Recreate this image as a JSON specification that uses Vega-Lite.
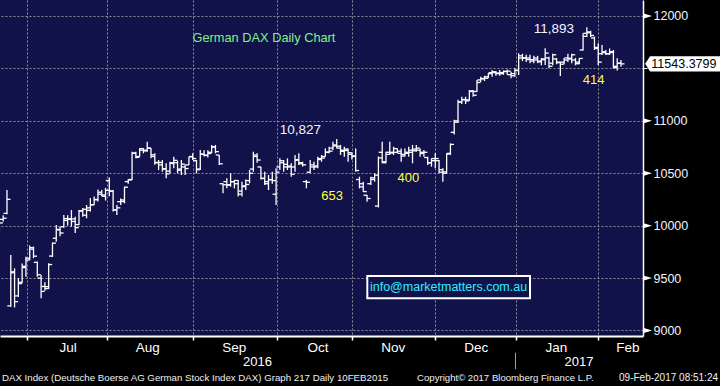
{
  "$schema": "https://vega.github.io/schema/vega-lite/v6.json",
  "width": 643,
  "height": 336,
  "autosize": {"type": "none"},
  "padding": {"left": 0, "top": 0, "right": 77, "bottom": 50},
  "background": "#000000",
  "config": {
    "view": {"fill": "#12124a", "stroke": null},
    "font": "Liberation Sans"
  },
  "datasets": {
    "ohlc": [
      {"i":-1,"o":9990,"h":10054,"l":9945,"c":10026},
      {"i":0,"o":10060,"h":10100,"l":10040,"c":10071},
      {"i":1,"o":10118,"h":10340,"l":10110,"c":10251},
      {"i":2,"o":9234,"h":9720,"l":9225,"c":9551},
      {"i":3,"o":9560,"h":9593,"l":9220,"c":9275},
      {"i":4,"o":9330,"h":9500,"l":9320,"c":9447},
      {"i":5,"o":9460,"h":9640,"l":9450,"c":9612},
      {"i":6,"o":9600,"h":9704,"l":9513,"c":9672},
      {"i":7,"o":9690,"h":9810,"l":9670,"c":9776},
      {"i":8,"o":9790,"h":9800,"l":9690,"c":9709},
      {"i":9,"o":9650,"h":9657,"l":9513,"c":9532},
      {"i":10,"o":9500,"h":9529,"l":9307,"c":9373},
      {"i":11,"o":9420,"h":9460,"l":9380,"c":9418},
      {"i":12,"o":9400,"h":9642,"l":9396,"c":9629},
      {"i":13,"o":9710,"h":9840,"l":9701,"c":9833},
      {"i":14,"o":9880,"h":10006,"l":9847,"c":9964},
      {"i":15,"o":9960,"h":9990,"l":9900,"c":9930},
      {"i":16,"o":9990,"h":10101,"l":9980,"c":10068},
      {"i":17,"o":10050,"h":10100,"l":10000,"c":10066},
      {"i":18,"o":10060,"h":10149,"l":9990,"c":10064},
      {"i":19,"o":10040,"h":10085,"l":9930,"c":9981},
      {"i":20,"o":10010,"h":10149,"l":10006,"c":10142},
      {"i":21,"o":10140,"h":10168,"l":10085,"c":10156},
      {"i":22,"o":10100,"h":10197,"l":10070,"c":10147},
      {"i":23,"o":10170,"h":10264,"l":10134,"c":10198},
      {"i":24,"o":10200,"h":10277,"l":10197,"c":10247},
      {"i":25,"o":10250,"h":10345,"l":10230,"c":10319},
      {"i":26,"o":10300,"h":10340,"l":10280,"c":10292},
      {"i":27,"o":10280,"h":10360,"l":10240,"c":10337},
      {"i":28,"o":10430,"h":10460,"l":10280,"c":10330},
      {"i":29,"o":10330,"h":10340,"l":10134,"c":10150},
      {"i":30,"o":10150,"h":10197,"l":10101,"c":10170},
      {"i":31,"o":10229,"h":10260,"l":10197,"c":10245},
      {"i":32,"o":10230,"h":10372,"l":10213,"c":10367},
      {"i":33,"o":10420,"h":10445,"l":10400,"c":10436},
      {"i":34,"o":10440,"h":10706,"l":10436,"c":10693},
      {"i":35,"o":10690,"h":10706,"l":10642,"c":10651},
      {"i":36,"o":10660,"h":10740,"l":10658,"c":10735},
      {"i":37,"o":10720,"h":10740,"l":10690,"c":10713},
      {"i":38,"o":10720,"h":10801,"l":10706,"c":10739},
      {"i":39,"o":10740,"h":10740,"l":10642,"c":10676},
      {"i":40,"o":10660,"h":10690,"l":10580,"c":10603},
      {"i":41,"o":10600,"h":10626,"l":10531,"c":10603},
      {"i":42,"o":10580,"h":10626,"l":10515,"c":10544},
      {"i":43,"o":10540,"h":10595,"l":10452,"c":10494},
      {"i":44,"o":10520,"h":10610,"l":10500,"c":10593},
      {"i":45,"o":10600,"h":10658,"l":10547,"c":10623},
      {"i":46,"o":10600,"h":10620,"l":10500,"c":10529},
      {"i":47,"o":10540,"h":10626,"l":10483,"c":10587},
      {"i":48,"o":10560,"h":10580,"l":10483,"c":10545},
      {"i":49,"o":10580,"h":10658,"l":10579,"c":10657},
      {"i":50,"o":10660,"h":10690,"l":10626,"c":10640},
      {"i":51,"o":10620,"h":10626,"l":10499,"c":10534},
      {"i":52,"o":10540,"h":10722,"l":10531,"c":10683},
      {"i":53,"o":10680,"h":10720,"l":10660,"c":10672},
      {"i":54,"o":10670,"h":10720,"l":10650,"c":10688},
      {"i":55,"o":10700,"h":10770,"l":10690,"c":10752},
      {"i":56,"o":10750,"h":10770,"l":10690,"c":10706},
      {"i":57,"o":10674,"h":10674,"l":10579,"c":10590},
      {"i":58,"o":10400,"h":10404,"l":10308,"c":10390},
      {"i":59,"o":10420,"h":10452,"l":10356,"c":10386},
      {"i":60,"o":10390,"h":10500,"l":10372,"c":10420},
      {"i":61,"o":10420,"h":10436,"l":10356,"c":10431},
      {"i":62,"o":10400,"h":10436,"l":10277,"c":10300},
      {"i":63,"o":10330,"h":10420,"l":10277,"c":10373},
      {"i":64,"o":10380,"h":10440,"l":10340,"c":10393},
      {"i":65,"o":10430,"h":10531,"l":10404,"c":10500},
      {"i":66,"o":10540,"h":10706,"l":10515,"c":10674},
      {"i":67,"o":10660,"h":10690,"l":10600,"c":10626},
      {"i":68,"o":10560,"h":10563,"l":10440,"c":10452},
      {"i":69,"o":10450,"h":10515,"l":10388,"c":10420},
      {"i":70,"o":10400,"h":10483,"l":10340,"c":10438},
      {"i":71,"o":10440,"h":10515,"l":10400,"c":10430},
      {"i":72,"o":10300,"h":10547,"l":10197,"c":10511},
      {"i":73,"o":10560,"h":10642,"l":10531,"c":10619},
      {"i":74,"o":10600,"h":10626,"l":10515,"c":10585},
      {"i":75,"o":10560,"h":10642,"l":10531,"c":10568},
      {"i":76,"o":10560,"h":10595,"l":10467,"c":10490},
      {"i":77,"o":10560,"h":10674,"l":10515,"c":10624},
      {"i":78,"o":10630,"h":10690,"l":10579,"c":10600},
      {"i":79,"o":10590,"h":10610,"l":10563,"c":10580},
      {"i":80,"o":10420,"h":10436,"l":10356,"c":10414},
      {"i":81,"o":10510,"h":10626,"l":10499,"c":10580},
      {"i":82,"o":10560,"h":10610,"l":10531,"c":10560},
      {"i":83,"o":10570,"h":10658,"l":10547,"c":10631},
      {"i":84,"o":10640,"h":10674,"l":10610,"c":10645},
      {"i":85,"o":10660,"h":10737,"l":10658,"c":10701},
      {"i":86,"o":10700,"h":10753,"l":10690,"c":10711},
      {"i":87,"o":10740,"h":10801,"l":10722,"c":10761},
      {"i":88,"o":10770,"h":10827,"l":10737,"c":10758},
      {"i":89,"o":10740,"h":10770,"l":10674,"c":10709},
      {"i":90,"o":10720,"h":10753,"l":10658,"c":10717},
      {"i":91,"o":10730,"h":10737,"l":10610,"c":10696},
      {"i":92,"o":10680,"h":10700,"l":10630,"c":10665},
      {"i":93,"o":10660,"h":10737,"l":10515,"c":10526},
      {"i":94,"o":10440,"h":10467,"l":10356,"c":10370},
      {"i":95,"o":10400,"h":10420,"l":10324,"c":10325},
      {"i":96,"o":10290,"h":10292,"l":10229,"c":10259},
      {"i":97,"o":10400,"h":10467,"l":10388,"c":10456},
      {"i":98,"o":10440,"h":10500,"l":10420,"c":10482},
      {"i":99,"o":10187,"h":10660,"l":10174,"c":10646},
      {"i":100,"o":10700,"h":10801,"l":10595,"c":10610},
      {"i":101,"o":10600,"h":10706,"l":10595,"c":10680},
      {"i":102,"o":10700,"h":10801,"l":10674,"c":10693},
      {"i":103,"o":10700,"h":10753,"l":10674,"c":10735},
      {"i":104,"o":10700,"h":10737,"l":10690,"c":10710},
      {"i":105,"o":10690,"h":10737,"l":10610,"c":10664},
      {"i":106,"o":10680,"h":10737,"l":10660,"c":10700},
      {"i":107,"o":10690,"h":10753,"l":10658,"c":10700},
      {"i":108,"o":10720,"h":10770,"l":10595,"c":10714},
      {"i":109,"o":10730,"h":10770,"l":10706,"c":10740},
      {"i":110,"o":10720,"h":10737,"l":10658,"c":10689},
      {"i":111,"o":10700,"h":10722,"l":10658,"c":10700},
      {"i":112,"o":10650,"h":10658,"l":10579,"c":10600},
      {"i":113,"o":10600,"h":10642,"l":10563,"c":10620},
      {"i":114,"o":10640,"h":10690,"l":10547,"c":10640},
      {"i":115,"o":10620,"h":10626,"l":10499,"c":10534},
      {"i":116,"o":10510,"h":10547,"l":10420,"c":10513},
      {"i":117,"o":10500,"h":10690,"l":10499,"c":10684},
      {"i":118,"o":10690,"h":10785,"l":10674,"c":10775},
      {"i":119,"o":10890,"h":11010,"l":10870,"c":10987},
      {"i":120,"o":11000,"h":11200,"l":10980,"c":11179},
      {"i":121,"o":11180,"h":11230,"l":11160,"c":11203},
      {"i":122,"o":11200,"h":11230,"l":11160,"c":11190},
      {"i":123,"o":11200,"h":11294,"l":11190,"c":11285},
      {"i":124,"o":11280,"h":11294,"l":11230,"c":11244},
      {"i":125,"o":11280,"h":11390,"l":11278,"c":11366},
      {"i":126,"o":11390,"h":11420,"l":11370,"c":11404},
      {"i":127,"o":11400,"h":11430,"l":11380,"c":11406},
      {"i":128,"o":11420,"h":11453,"l":11406,"c":11450},
      {"i":129,"o":11460,"h":11485,"l":11421,"c":11468},
      {"i":130,"o":11460,"h":11475,"l":11430,"c":11456},
      {"i":131,"o":11450,"h":11485,"l":11430,"c":11450},
      {"i":132,"o":11460,"h":11480,"l":11440,"c":11472},
      {"i":133,"o":11470,"h":11490,"l":11440,"c":11474},
      {"i":134,"o":11440,"h":11469,"l":11406,"c":11451},
      {"i":135,"o":11430,"h":11501,"l":11421,"c":11481},
      {"i":136,"o":11480,"h":11644,"l":11437,"c":11599},
      {"i":137,"o":11620,"h":11640,"l":11570,"c":11600},
      {"i":138,"o":11600,"h":11630,"l":11560,"c":11585},
      {"i":139,"o":11600,"h":11630,"l":11550,"c":11584},
      {"i":140,"o":11570,"h":11620,"l":11550,"c":11599},
      {"i":141,"o":11580,"h":11620,"l":11550,"c":11563},
      {"i":142,"o":11570,"h":11600,"l":11530,"c":11583},
      {"i":143,"o":11590,"h":11692,"l":11533,"c":11646},
      {"i":144,"o":11600,"h":11612,"l":11501,"c":11521},
      {"i":145,"o":11550,"h":11640,"l":11530,"c":11630},
      {"i":146,"o":11590,"h":11600,"l":11540,"c":11555},
      {"i":147,"o":11560,"h":11564,"l":11428,"c":11540},
      {"i":148,"o":11560,"h":11600,"l":11540,"c":11580},
      {"i":149,"o":11600,"h":11640,"l":11560,"c":11597},
      {"i":150,"o":11590,"h":11640,"l":11550,"c":11630},
      {"i":151,"o":11580,"h":11600,"l":11530,"c":11545},
      {"i":152,"o":11560,"h":11600,"l":11540,"c":11595},
      {"i":153,"o":11676,"h":11835,"l":11670,"c":11806},
      {"i":154,"o":11835,"h":11893,"l":11800,"c":11848},
      {"i":155,"o":11840,"h":11860,"l":11800,"c":11814},
      {"i":156,"o":11790,"h":11803,"l":11676,"c":11690},
      {"i":157,"o":11700,"h":11739,"l":11533,"c":11560},
      {"i":158,"o":11640,"h":11723,"l":11628,"c":11659},
      {"i":159,"o":11650,"h":11676,"l":11628,"c":11640},
      {"i":160,"o":11640,"h":11690,"l":11628,"c":11651},
      {"i":161,"o":11660,"h":11676,"l":11500,"c":11509},
      {"i":162,"o":11520,"h":11596,"l":11479,"c":11549},
      {"i":163,"o":11550,"h":11580,"l":11516,"c":11543.38}
    ],
    "levels": [
      {"i":170.0,"v":9000},{"i":170.0,"v":9500},{"i":170.0,"v":10000},
      {"i":170.0,"v":10500},{"i":170.0,"v":11000},{"i":170.0,"v":12000}
    ]
  },
  "layer": [
    {
      "data": {"name": "ohlc"},
      "mark": {"type": "rule", "color": "#ffffff", "strokeWidth": 1.3},
      "encoding": {
        "x": {
          "field": "i", "type": "quantitative",
          "scale": {"domain": [-0.844, 168.81], "nice": false, "zero": false},
          "axis": {
            "orient": "bottom",
            "title": null,
            "values": [6.28, 27.31, 50.16, 72.24, 92.11, 114.01, 135.17, 157.02],
            "labelExpr": "datum.value < 10 ? 'Jul' : datum.value < 30 ? 'Aug' : datum.value < 60 ? 'Sep' : datum.value < 80 ? 'Oct' : datum.value < 100 ? 'Nov' : datum.value < 120 ? 'Dec' : datum.value < 140 ? 'Jan' : 'Feb'",
            "labelOffset": {"condition": {"test": "datum.value > 150", "value": 29}, "value": 40.5},
            "labelColor": "#ffffff",
            "labelFont": "Liberation Sans",
            "labelFontSize": 13.5,
            "labelPadding": 0,
            "labelOverlap": false,
            "labelBound": false,
            "labelFlush": false,
            "tickColor": "#ffffff",
            "tickSize": 4,
            "tickWidth": 1.5,
            "domainColor": "#ffffff",
            "domainWidth": 2,
            "grid": true,
            "gridColor": "#8c8c99",
            "gridDash": [2, 2],
            "gridWidth": 1
          }
        },
        "y": {
          "field": "l", "type": "quantitative",
          "scale": {"domain": [8947.5, 12152.6], "nice": false, "zero": false},
          "axis": {
            "orient": "right",
            "title": null,
            "values": [9000, 9250, 9500, 9750, 10000, 10250, 10500, 10750, 11000, 11250, 11500, 11750, 12000],
            "labelExpr": "datum.value % 500 == 0 && datum.value != 11500 ? format(datum.value, 'd') : ''",
            "labelColor": "#f2f5ff",
            "labelFont": "Liberation Sans",
            "labelFontSize": 12.5,
            "labelPadding": 6,
            "labelOverlap": false,
            "labelBound": false,
            "labelFlush": false,
            "tickColor": "#ffffff",
            "tickSize": 4,
            "tickWidth": 1,
            "domainColor": "#ffffff",
            "domainWidth": 1.5,
            "grid": true,
            "gridColor": "#8c8c99",
            "gridDash": [2, 2],
            "gridWidth": 1,
            "gridOpacity": {"condition": {"test": "datum.value % 500 != 0", "value": 0}, "value": 1}
          }
        },
        "y2": {"field": "h"}
      }
    },
    {
      "data": {"name": "ohlc"},
      "mark": {"type": "tick", "orient": "horizontal", "color": "#ffffff", "opacity": 1, "size": 3.5, "thickness": 1.3, "xOffset": -1.75},
      "encoding": {
        "x": {"field": "i", "type": "quantitative", "scale": {"domain": [-0.844, 168.81], "nice": false, "zero": false}},
        "y": {"field": "o", "type": "quantitative", "scale": {"domain": [8947.5, 12152.6], "nice": false, "zero": false}}
      }
    },
    {
      "data": {"name": "ohlc"},
      "mark": {"type": "tick", "orient": "horizontal", "color": "#ffffff", "opacity": 1, "size": 3.5, "thickness": 1.3, "xOffset": 1.75},
      "encoding": {
        "x": {"field": "i", "type": "quantitative", "scale": {"domain": [-0.844, 168.81], "nice": false, "zero": false}},
        "y": {"field": "c", "type": "quantitative", "scale": {"domain": [8947.5, 12152.6], "nice": false, "zero": false}}
      }
    },
    {
      "data": {"values": [{"x1": 96.07, "x2": 139.0, "y1": 9307, "y2": 9519.8}]},
      "mark": {"type": "rect", "fill": "#12124a", "stroke": "#ffffff", "strokeWidth": 2},
      "encoding": {
        "x": {"field": "x1", "type": "quantitative", "scale": {"domain": [-0.844, 168.81], "nice": false, "zero": false}},
        "x2": {"field": "x2"},
        "y": {"field": "y1", "type": "quantitative", "scale": {"domain": [8947.5, 12152.6], "nice": false, "zero": false}},
        "y2": {"field": "y2"}
      }
    },
    {
      "data": {"values": [{"t": "info@marketmatters.com.au", "i": 117.5, "v": 9413}]},
      "mark": {"type": "text", "color": "#28f0ff", "fontSize": 12.5, "align": "center", "baseline": "middle"},
      "encoding": {
        "x": {"field": "i", "type": "quantitative", "scale": {"domain": [-0.844, 168.81], "nice": false, "zero": false}},
        "y": {"field": "v", "type": "quantitative", "scale": {"domain": [8947.5, 12152.6], "nice": false, "zero": false}},
        "text": {"field": "t"}
      }
    },
    {
      "data": {"values": [{"t": "German DAX Daily Chart", "i": 68.8, "v": 11790}]},
      "mark": {"type": "text", "color": "#80f08a", "fontSize": 12.8, "align": "center", "baseline": "middle"},
      "encoding": {
        "x": {"field": "i", "type": "quantitative", "scale": {"domain": [-0.844, 168.81], "nice": false, "zero": false}},
        "y": {"field": "v", "type": "quantitative", "scale": {"domain": [8947.5, 12152.6], "nice": false, "zero": false}},
        "text": {"field": "t"}
      }
    },
    {
      "data": {"values": [{"t": "10,827", "i": 78.4, "v": 10912}, {"t": "11,893", "i": 145.3, "v": 11876}]},
      "mark": {"type": "text", "color": "#f0f4ff", "fontSize": 13.5, "align": "center", "baseline": "middle"},
      "encoding": {
        "x": {"field": "i", "type": "quantitative", "scale": {"domain": [-0.844, 168.81], "nice": false, "zero": false}},
        "y": {"field": "v", "type": "quantitative", "scale": {"domain": [8947.5, 12152.6], "nice": false, "zero": false}},
        "text": {"field": "t"}
      }
    },
    {
      "data": {"values": [{"t": "653", "i": 86.8, "v": 10283}, {"t": "400", "i": 106.9, "v": 10455}, {"t": "414", "i": 155.8, "v": 11394}]},
      "mark": {"type": "text", "color": "#ffff3c", "fontSize": 13, "align": "center", "baseline": "middle"},
      "encoding": {
        "x": {"field": "i", "type": "quantitative", "scale": {"domain": [-0.844, 168.81], "nice": false, "zero": false}},
        "y": {"field": "v", "type": "quantitative", "scale": {"domain": [8947.5, 12152.6], "nice": false, "zero": false}},
        "text": {"field": "t"}
      }
    },
    {
      "data": {"values": [{"t": "2016", "i": 67.1, "v": 8699}, {"t": "2017", "i": 151.9, "v": 8699}]},
      "mark": {"type": "text", "color": "#ffffff", "fontSize": 13, "align": "center", "baseline": "middle"},
      "encoding": {
        "x": {"field": "i", "type": "quantitative", "scale": {"domain": [-0.844, 168.81], "nice": false, "zero": false}},
        "y": {"field": "v", "type": "quantitative", "scale": {"domain": [8947.5, 12152.6], "nice": false, "zero": false}},
        "text": {"field": "t"}
      }
    },
    {
      "data": {"values": [{"i": 135.17, "v1": 8630, "v2": 8788}]},
      "mark": {"type": "rule", "color": "#a0a0a0", "strokeWidth": 1},
      "encoding": {
        "x": {"field": "i", "type": "quantitative", "scale": {"domain": [-0.844, 168.81], "nice": false, "zero": false}},
        "y": {"field": "v1", "type": "quantitative", "scale": {"domain": [8947.5, 12152.6], "nice": false, "zero": false}},
        "y2": {"field": "v2"}
      }
    },
    {
      "data": {"values": [
        {"t": "DAX Index (Deutsche Boerse AG German Stock Index DAX) Graph 217  Daily 10FEB2015", "i": -0.32, "v": 8547}
      ]},
      "mark": {"type": "text", "color": "#f0f0f0", "fontSize": 9.7, "align": "left", "baseline": "middle"},
      "encoding": {
        "x": {"field": "i", "type": "quantitative", "scale": {"domain": [-0.844, 168.81], "nice": false, "zero": false}},
        "y": {"field": "v", "type": "quantitative", "scale": {"domain": [8947.5, 12152.6], "nice": false, "zero": false}},
        "text": {"field": "t"}
      }
    },
    {
      "data": {"values": [
        {"t": "Copyright\u00a9 2017 Bloomberg Finance L.P.", "i": 109.2, "v": 8547}
      ]},
      "mark": {"type": "text", "color": "#f0f0f0", "fontSize": 9.6, "align": "left", "baseline": "middle"},
      "encoding": {
        "x": {"field": "i", "type": "quantitative", "scale": {"domain": [-0.844, 168.81], "nice": false, "zero": false}},
        "y": {"field": "v", "type": "quantitative", "scale": {"domain": [8947.5, 12152.6], "nice": false, "zero": false}},
        "text": {"field": "t"}
      }
    },
    {
      "data": {"values": [{"t": "09-Feb-2017 08:51:24", "i": 188.6, "v": 8547}]},
      "mark": {"type": "text", "color": "#f0f0f0", "fontSize": 10, "align": "right", "baseline": "middle"},
      "encoding": {
        "x": {"field": "i", "type": "quantitative", "scale": {"domain": [-0.844, 168.81], "nice": false, "zero": false}},
        "y": {"field": "v", "type": "quantitative", "scale": {"domain": [8947.5, 12152.6], "nice": false, "zero": false}},
        "text": {"field": "t"}
      }
    },
    {
      "data": {"name": "levels"},
      "mark": {"type": "point", "shape": "M -1 -0.6 L 1 0 L -1 0.6 Z", "filled": true, "color": "#ffffff", "opacity": 1, "size": 81, "strokeWidth": 0},
      "encoding": {
        "x": {"field": "i", "type": "quantitative", "scale": {"domain": [-0.844, 168.81], "nice": false, "zero": false}},
        "y": {"field": "v", "type": "quantitative", "scale": {"domain": [8947.5, 12152.6], "nice": false, "zero": false}}
      }
    },
    {
      "data": {"values": [{"t": "11543.3799", "i": 179.4, "v": 11543.38}]},
      "mark": {"type": "point", "shape": "M -1 0 L -0.87 -0.2 L 1 -0.2 L 1 0.2 L -0.87 0.2 Z", "filled": true, "color": "#ffffff", "opacity": 1, "size": 5776, "strokeWidth": 0},
      "encoding": {
        "x": {"field": "i", "type": "quantitative", "scale": {"domain": [-0.844, 168.81], "nice": false, "zero": false}},
        "y": {"field": "v", "type": "quantitative", "scale": {"domain": [8947.5, 12152.6], "nice": false, "zero": false}}
      }
    },
    {
      "data": {"values": [{"t": "11543.3799", "i": 179.6, "v": 11543.38}]},
      "mark": {"type": "text", "color": "#000000", "fontSize": 12.5, "align": "center", "baseline": "middle"},
      "encoding": {
        "x": {"field": "i", "type": "quantitative", "scale": {"domain": [-0.844, 168.81], "nice": false, "zero": false}},
        "y": {"field": "v", "type": "quantitative", "scale": {"domain": [8947.5, 12152.6], "nice": false, "zero": false}},
        "text": {"field": "t"}
      }
    }
  ]
}
